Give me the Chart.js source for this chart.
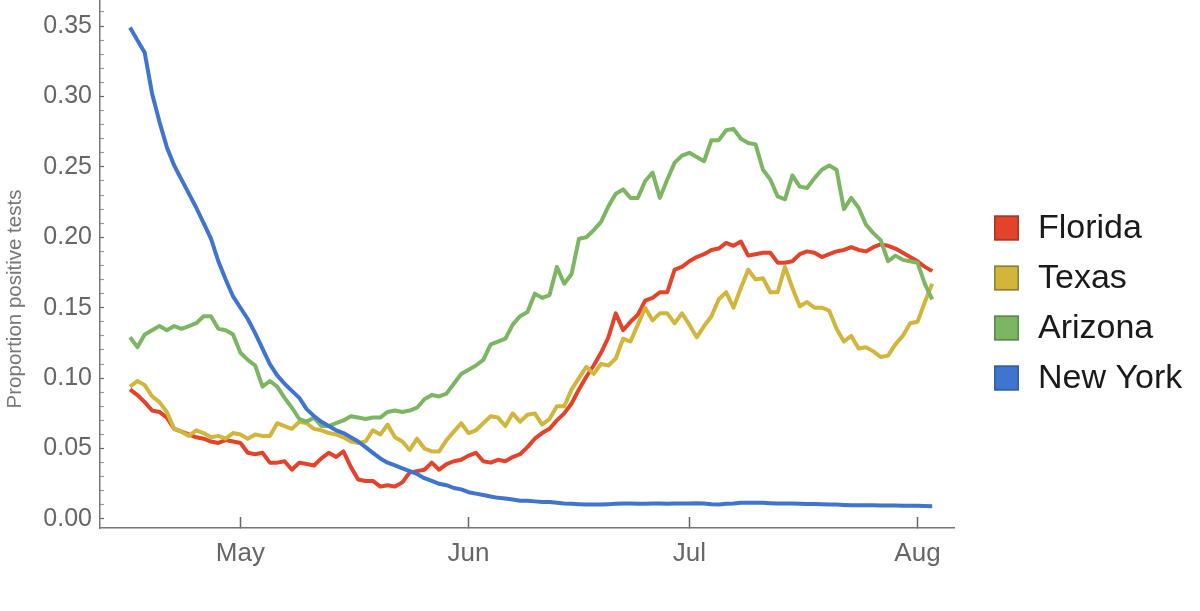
<!DOCTYPE html>
<html>
<head>
<meta charset="utf-8">
<script src="https://cdn.jsdelivr.net/npm/chart.js@4/dist/chart.umd.min.js"></script>
<style>
  html, body { margin: 0; padding: 0; background: #ffffff; }
  #wrap { width: 1200px; height: 611px; position: relative; }
</style>
</head>
<body>
<div id="wrap"><canvas id="c" width="1200" height="611"></canvas></div>
<script>
// ---- Data (daily, starting 2020-04-16) ----
const startDate = '2020-04-16';
const seriesNames = ['Florida', 'Texas', 'Arizona', 'New York'];

const florida = [
  0.092,0.088,0.083,0.077,0.076,0.072,0.064,0.062,0.060,0.058,
  0.057,0.055,0.054,0.056,0.055,0.054,0.047,0.046,0.047,0.040,
  0.040,0.041,0.035,0.040,0.039,0.038,0.043,0.047,0.044,0.048,
  0.037,0.028,0.027,0.027,0.023,0.024,0.023,0.026,0.033,0.034,
  0.035,0.040,0.035,0.039,0.041,0.042,0.045,0.047,0.041,0.040,
  0.042,0.041,0.044,0.046,0.051,0.057,0.061,0.064,0.070,0.075,
  0.082,0.092,0.101,0.109,0.118,0.129,0.146,0.134,0.140,0.145,
  0.155,0.157,0.161,0.161,0.177,0.179,0.183,0.186,0.188,0.191,
  0.192,0.196,0.194,0.197,0.187,0.188,0.189,0.189,0.182,0.182,
  0.183,0.188,0.190,0.189,0.186,0.188,0.190,0.191,0.193,0.191,
  0.190,0.193,0.195,0.194,0.192,0.189,0.186,0.183,0.179,0.176
];
const texas = [
  0.094,0.098,0.095,0.087,0.083,0.076,0.064,0.062,0.059,0.063,
  0.061,0.058,0.059,0.057,0.061,0.060,0.057,0.060,0.059,0.059,
  0.068,0.066,0.064,0.069,0.068,0.064,0.063,0.061,0.060,0.058,
  0.055,0.054,0.055,0.063,0.060,0.067,0.058,0.055,0.049,0.057,
  0.050,0.048,0.048,0.056,0.062,0.068,0.061,0.063,0.068,0.073,
  0.072,0.066,0.075,0.069,0.074,0.075,0.067,0.071,0.080,0.080,
  0.092,0.100,0.108,0.103,0.110,0.109,0.114,0.128,0.126,0.138,
  0.150,0.141,0.146,0.146,0.139,0.146,0.138,0.129,0.137,0.144,
  0.156,0.161,0.150,0.164,0.177,0.170,0.171,0.161,0.161,0.179,
  0.164,0.151,0.154,0.150,0.150,0.148,0.135,0.126,0.130,0.121,
  0.122,0.119,0.115,0.116,0.124,0.130,0.139,0.140,0.154,0.167
];
const arizona = [
  0.129,0.122,0.131,0.134,0.137,0.134,0.137,0.135,0.137,0.139,
  0.144,0.144,0.135,0.134,0.131,0.118,0.113,0.109,0.094,0.098,
  0.094,0.086,0.079,0.071,0.069,0.072,0.066,0.066,0.068,0.070,
  0.073,0.072,0.071,0.072,0.072,0.076,0.077,0.076,0.077,0.079,
  0.085,0.088,0.087,0.089,0.096,0.103,0.106,0.109,0.113,0.124,
  0.126,0.128,0.138,0.144,0.147,0.160,0.157,0.159,0.179,0.167,
  0.174,0.199,0.200,0.205,0.211,0.222,0.231,0.234,0.228,0.228,
  0.240,0.246,0.228,0.241,0.253,0.258,0.260,0.257,0.254,0.269,
  0.269,0.276,0.277,0.270,0.267,0.266,0.248,0.241,0.229,0.227,
  0.244,0.236,0.235,0.242,0.248,0.251,0.248,0.220,0.228,0.221,
  0.209,0.203,0.198,0.183,0.187,0.184,0.183,0.182,0.167,0.156
];
const newYork = [
  0.349,0.340,0.331,0.302,0.282,0.264,0.251,0.241,0.231,0.221,
  0.210,0.199,0.183,0.170,0.158,0.150,0.142,0.132,0.121,0.110,
  0.102,0.096,0.091,0.086,0.078,0.073,0.069,0.066,0.063,0.061,
  0.058,0.055,0.051,0.047,0.043,0.040,0.038,0.036,0.034,0.032,
  0.029,0.027,0.025,0.024,0.022,0.021,0.019,0.018,0.017,0.016,
  0.015,0.0145,0.0138,0.013,0.013,0.0125,0.012,0.012,0.0115,0.011,
  0.0108,0.0105,0.0103,0.0102,0.0102,0.0105,0.0108,0.011,0.011,0.0108,
  0.0108,0.011,0.011,0.0108,0.011,0.011,0.011,0.0112,0.011,0.0105,
  0.0103,0.0108,0.011,0.0115,0.0115,0.0115,0.0115,0.0112,0.011,0.011,
  0.011,0.0108,0.0106,0.0106,0.0105,0.0103,0.0102,0.010,0.0098,0.0098,
  0.0098,0.0097,0.0096,0.0095,0.0095,0.0094,0.0094,0.0094,0.0092,0.0091
];

// Tick labels (x ticks are first-of-month, as day offsets from startDate)
const xTickDays = [15, 46, 76, 107];
const xTickLabels = ['May', 'Jun', 'Jul', 'Aug'];
const yTickLabels = ['0.00', '0.05', '0.10', '0.15', '0.20', '0.25', '0.30', '0.35'];
const yAxisTitle = 'Proportion positive tests';

// ---- Styling ----
const lineColors = ['#E2432A', '#D2B53B', '#7DB662', '#3F74CF'];
const boxBorders = ['#A8392A', '#8E8140', '#5D8A4E', '#35619F'];
const FONT = '"Liberation Sans", Arial, Helvetica, sans-serif';

const allSeries = [florida, texas, arizona, newYork];
const datasets = allSeries.map((vals, k) => ({
  label: seriesNames[k],
  data: vals.map((v, i) => ({ x: i, y: v })),
  borderColor: lineColors[k],
  backgroundColor: lineColors[k],
  borderWidth: 4,
  pointRadius: 0,
  pointHoverRadius: 0,
  tension: 0,
  fill: false,
  order: allSeries.length - k,
  borderJoinStyle: 'round',
  borderCapStyle: 'butt'
}));

const legendPlugin = {
  id: 'sideLegend',
  afterDraw(chart) {
    const ctx = chart.ctx;
    const ca = chart.chartArea;
    const bx = ca.right + 40;
    const box = 25;
    ctx.save();
    ctx.font = '34px ' + FONT;
    ctx.textBaseline = 'middle';
    ctx.textAlign = 'left';
    chart.data.datasets.forEach((ds, i) => {
      const cy = 228 + i * 50;
      ctx.fillStyle = ds.borderColor;
      ctx.fillRect(bx, cy - box / 2, box, box);
      ctx.lineWidth = 1.6;
      ctx.strokeStyle = boxBorders[i];
      ctx.strokeRect(bx + 0.8, cy - box / 2 + 0.8, box - 1.6, box - 1.6);
      ctx.fillStyle = '#1a1a1a';
      ctx.fillText(ds.label, bx + box + 19, cy + 1);
    });
    ctx.restore();
  }
};

const yTitlePlugin = {
  id: 'yTitle',
  afterDraw(chart) {
    const ctx = chart.ctx;
    ctx.save();
    ctx.translate(15, 299);
    ctx.rotate(-Math.PI / 2);
    ctx.font = '20.5px ' + FONT;
    ctx.fillStyle = '#777777';
    ctx.textAlign = 'center';
    ctx.textBaseline = 'middle';
    ctx.fillText(yAxisTitle, 0, 0);
    ctx.restore();
  }
};

new Chart(document.getElementById('c'), {
  type: 'line',
  data: { datasets },
  plugins: [legendPlugin, yTitlePlugin],
  options: {
    responsive: false,
    animation: false,
    events: [],
    layout: { padding: { top: 0, right: 246, bottom: 0, left: 0 } },
    plugins: { legend: { display: false }, tooltip: { enabled: false }, title: { display: false } },
    scales: {
      x: {
        type: 'linear',
        min: -4.08,
        max: 111.96,
        afterBuildTicks(scale) { scale.ticks = xTickDays.map(v => ({ value: v })); },
        afterFit(scale) { scale.height = 83; scale.paddingLeft = 0; scale.paddingRight = 0; },
        ticks: {
          autoSkip: false,
          maxRotation: 0,
          padding: 21,
          color: '#666666',
          font: { family: FONT, size: 26 },
          callback(value) { const i = xTickDays.indexOf(value); return i >= 0 ? xTickLabels[i] : ''; }
        },
        grid: {
          display: true,
          drawOnChartArea: false,
          drawTicks: true,
          tickLength: -11,
          tickColor: '#666666',
          tickWidth: 1.5
        },
        border: { display: true, color: '#777777', width: 1.5 }
      },
      y: {
        type: 'linear',
        min: -0.0064,
        max: 0.3685,
        afterBuildTicks(scale) {
          const t = [];
          for (let i = 0; i <= 36; i++) t.push({ value: i / 100 });
          scale.ticks = t;
        },
        afterFit(scale) { scale.width = 100; scale.paddingTop = 0; scale.paddingBottom = 0; },
        ticks: {
          autoSkip: false,
          padding: 12,
          color: '#666666',
          font: { family: FONT, size: 25 },
          callback(value) {
            const i = Math.round(value * 100);
            return i % 5 === 0 ? yTickLabels[i / 5] : '';
          }
        },
        grid: {
          display: true,
          drawOnChartArea: false,
          drawTicks: true,
          tickLength: -4,
          tickColor(ctx) {
            const i = Math.round((ctx.tick ? ctx.tick.value : 0) * 100);
            return i % 5 === 0 ? '#666666' : '#9a9a9a';
          },
          tickWidth: 1.2
        },
        border: { display: true, color: '#777777', width: 1.5 }
      }
    }
  }
});
</script>
</body>
</html>
